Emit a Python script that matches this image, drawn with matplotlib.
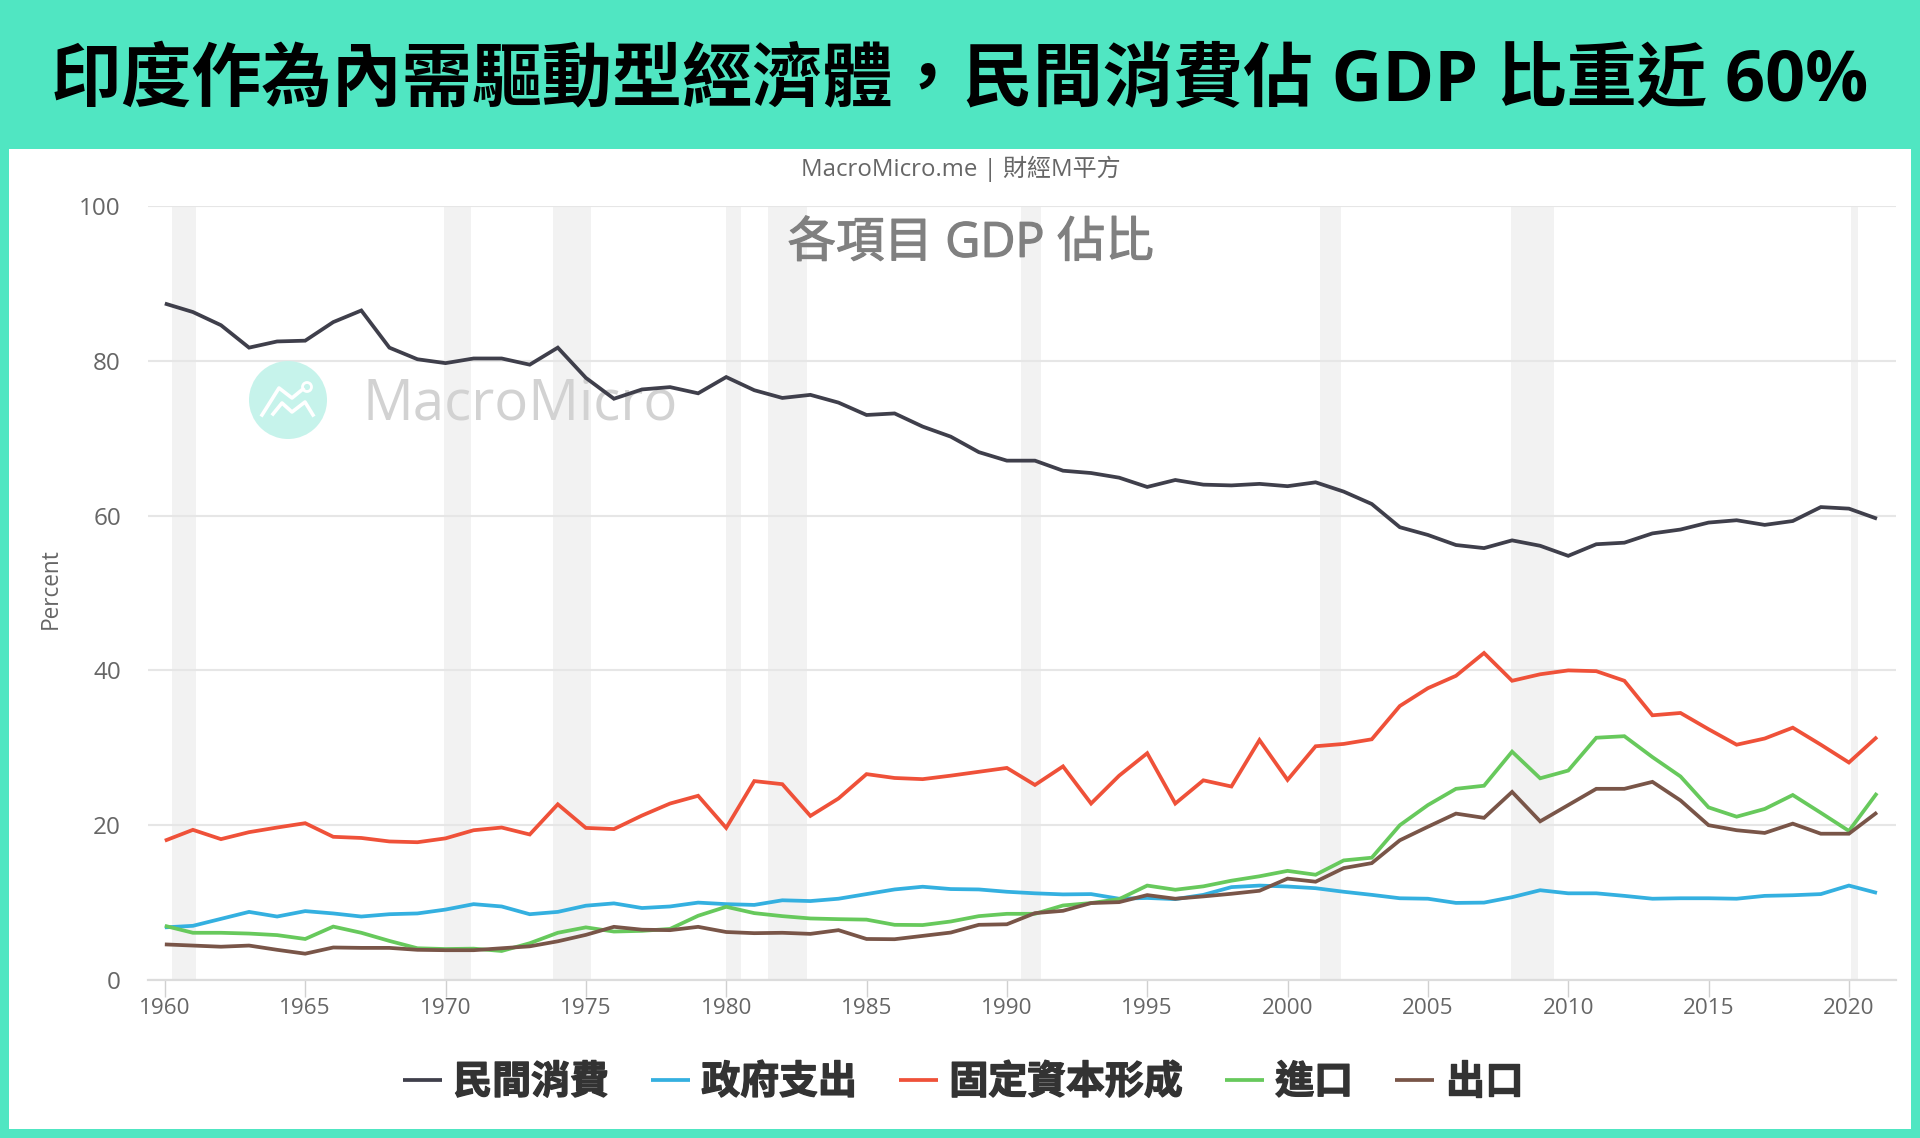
import matplotlib
matplotlib.use('Agg')
import matplotlib.pyplot as plt
import matplotlib.patheffects as pe
from matplotlib.patches import Rectangle, Circle
from matplotlib.transforms import IdentityTransform

W, H = 1920, 1138

years = list(range(1960, 2022))
consumption = [87.4, 86.3, 84.6, 81.7, 82.5, 82.6, 85.0, 86.5, 81.7, 80.2,
               79.7, 80.3, 80.3, 79.5, 81.7, 77.8, 75.1, 76.3, 76.6, 75.8,
               77.9, 76.2, 75.2, 75.6, 74.6, 73.0, 73.2, 71.5, 70.2, 68.2,
               67.1, 67.1, 65.8, 65.5, 64.9, 63.7, 64.6, 64.0, 63.9, 64.1,
               63.8, 64.3, 63.1, 61.5, 58.5, 57.5, 56.2, 55.8, 56.8, 56.1,
               54.8, 56.3, 56.5, 57.7, 58.2, 59.1, 59.4, 58.8, 59.3, 61.1,
               60.9, 59.6]
government = [6.8, 7.0, 7.9, 8.8, 8.2, 8.9, 8.6, 8.2, 8.5, 8.6,
              9.1, 9.8, 9.5, 8.5, 8.8, 9.6, 9.9, 9.3, 9.5, 10.0,
              9.8, 9.7, 10.3, 10.2, 10.5, 11.1, 11.7, 12.05, 11.75, 11.7,
              11.4, 11.2, 11.06, 11.1, 10.5, 10.6, 10.45, 11.0, 12.0, 12.2,
              12.08, 11.86, 11.4, 11.0, 10.56, 10.5, 9.96, 10.0, 10.7, 11.6,
              11.2, 11.2, 10.87, 10.5, 10.56, 10.56, 10.5, 10.87, 10.95, 11.1,
              12.2, 11.25]
capital = [18.0, 19.4, 18.2, 19.1, 19.7, 20.26, 18.5, 18.35, 17.9, 17.8,
           18.3, 19.35, 19.7, 18.8, 22.7, 19.65, 19.5, 21.25, 22.8, 23.8,
           19.65, 25.7, 25.3, 21.2, 23.45, 26.6, 26.1, 25.95, 26.4, 26.9,
           27.4, 25.2, 27.6, 22.8, 26.4, 29.3, 22.8, 25.8, 25.0, 31.0,
           25.85, 30.2, 30.5, 31.1, 35.4, 37.7, 39.3, 42.25, 38.66, 39.5,
           40.0, 39.9, 38.66, 34.2, 34.5, 32.4, 30.4, 31.2, 32.6, 30.4,
           28.1, 31.4]
imports = [7.0, 6.1, 6.1, 6.0, 5.8, 5.3, 6.9, 6.1, 5.05, 4.1,
           4.0, 4.05, 3.75, 4.75, 6.1, 6.8, 6.26, 6.35, 6.6, 8.3,
           9.46, 8.64, 8.25, 7.95, 7.86, 7.8, 7.13, 7.1, 7.56, 8.25,
           8.55, 8.55, 9.63, 9.94, 10.45, 12.2, 11.66, 12.1, 12.83, 13.4,
           14.1, 13.6, 15.45, 15.8, 20.0, 22.6, 24.7, 25.1, 29.5, 26.06,
           27.06, 31.3, 31.5, 28.8, 26.3, 22.3, 21.1, 22.1, 23.9, 21.6,
           19.26, 24.15]
exports = [4.6, 4.45, 4.3, 4.45, 3.9, 3.4, 4.2, 4.15, 4.15, 3.9,
           3.85, 3.85, 4.1, 4.35, 5.0, 5.83, 6.87, 6.5, 6.44, 6.87,
           6.2, 6.05, 6.1, 5.96, 6.44, 5.3, 5.27, 5.7, 6.13, 7.13,
           7.2, 8.64, 8.94, 9.94, 10.06, 10.97, 10.5, 10.8, 11.14, 11.53,
           13.1, 12.7, 14.46, 15.1, 18.05, 19.8, 21.5, 20.95, 24.3, 20.5,
           22.6, 24.7, 24.7, 25.6, 23.2, 20.0, 19.35, 19.0, 20.2, 18.9,
           18.9, 21.65]

recession_start = [1960.25, 1969.95, 1973.83, 1980.0, 1981.5, 1990.5, 2001.17, 2007.95, 2020.08]
recession_end = [1961.12, 1970.92, 1975.2, 1980.54, 1982.87, 1991.2, 2001.9, 2009.5, 2020.33]

series_names = ['民間消費', '政府支出', '固定資本形成', '進口', '出口']
series_colors = ['#3f3f4b', '#34b0e0', '#ef5139', '#67c95c', '#795548']
xtick_years = list(range(1960, 2021, 5))
ytick_values = [0, 20, 40, 60, 80, 100]

plt.rcParams['font.family'] = ['Open Sans', 'Noto Sans CJK TC', 'DejaVu Sans']

GREEN = '#50e6c2'
fig = plt.figure(figsize=(W / 100, H / 100), dpi=100, facecolor=GREEN)
fig.add_artist(Rectangle((9 / W, 1 - 1129 / H), (1911 - 9) / W, (1129 - 149) / H,
                         transform=fig.transFigure, facecolor='white', edgecolor='none', zorder=-5))

ax = fig.add_axes([148 / W, 1 - 980 / H, (1895.5 - 148) / W, (980 - 206) / H])
ax.patch.set_alpha(0)
ax.set_xlim(1959.4, 2021.66)
ax.set_ylim(0, 100)

for a, b in zip(recession_start, recession_end):
    ax.axvspan(a, b, facecolor='#f2f2f2', edgecolor='none', zorder=0)

ax.set_axisbelow(True)
ax.grid(axis='y', color='#e6e6e6', linewidth=1.5, zorder=1)
for s in ['top', 'left', 'right']:
    ax.spines[s].set_visible(False)
ax.spines['bottom'].set_color('#dcdcdc')
ax.spines['bottom'].set_linewidth(1.6)

ax.set_xticks(xtick_years)
ax.set_yticks(ytick_values)
ax.tick_params(axis='x', length=12, width=1, color='#d0d0d0', labelcolor='#666666', labelsize=16.2, pad=1)
ax.tick_params(axis='y', length=0, labelcolor='#666666', labelsize=17.5, pad=19.5)


# watermark, in pixels of the figure
def px(x, y):
    return x, H - y


idt = IdentityTransform()
ax.add_patch(Circle(px(288, 400), 39, transform=idt, facecolor='#c6f3eb', edgecolor='none',
                    zorder=1.5, clip_on=False))
logo_a = [(262, 415), (279, 388), (292, 398), (303, 389)]
logo_b = [(273, 414), (282, 403), (292, 412), (305, 402), (313, 415)]
for pts in (logo_a, logo_b):
    xs = [px(*p)[0] for p in pts]
    ys = [px(*p)[1] for p in pts]
    ax.plot(xs, ys, color='white', linewidth=2.6, transform=idt, zorder=1.6, clip_on=False)
ax.add_patch(Circle(px(307, 387), 4.5, transform=idt, facecolor='none', edgecolor='white',
                    linewidth=2, zorder=1.6, clip_on=False))
ax.text(*px(362, 420), 'MacroMicro', transform=idt, fontsize=40.6, color='#d2d2d2',
        ha='left', va='baseline', zorder=1.6)

handles = []
all_series = [consumption, government, capital, imports, exports]
for vals, name, c in zip(all_series, series_names, series_colors):
    line, = ax.plot(years, vals, color=c, linewidth=2.7, label=name, zorder=3,
                    solid_joinstyle='miter', solid_capstyle='butt')
    handles.append(line)

leg = fig.legend(handles=handles, loc='center', bbox_to_anchor=(963 / W, 1 - 1082 / H), ncol=5, frameon=False,
                 handlelength=1.0, handletextpad=0.3, columnspacing=1.08,
                 prop={'family': ['Noto Sans CJK TC'], 'weight': 'bold', 'size': 28}, labelcolor='#333333')
for t in leg.get_texts():
    t.set_path_effects([pe.withStroke(linewidth=1.0, foreground='#333333')])

fig.text(960 / W, 1 - 83 / H, '印度作為內需驅動型經濟體，民間消費佔 GDP 比重近 60%', ha='center', va='center',
         fontsize=50.5, fontweight='bold', color='black')
fig.text(961 / W, 1 - 169 / H, 'MacroMicro.me | 財經M平方', ha='center', va='center',
         fontsize=17.3, color='#666666')
t = fig.text(971 / W, 1 - 244 / H, '各項目 GDP 佔比', ha='center', va='center',
             fontsize=34.8, color='#808080')
t.set_path_effects([pe.withStroke(linewidth=0.9, foreground='#808080')])
fig.text(51 / W, 1 - 589 / H, 'Percent', rotation=90, ha='center', va='center',
         fontsize=16.3, color='#666666')

fig.savefig('out.png', dpi=100, facecolor=fig.get_facecolor())
